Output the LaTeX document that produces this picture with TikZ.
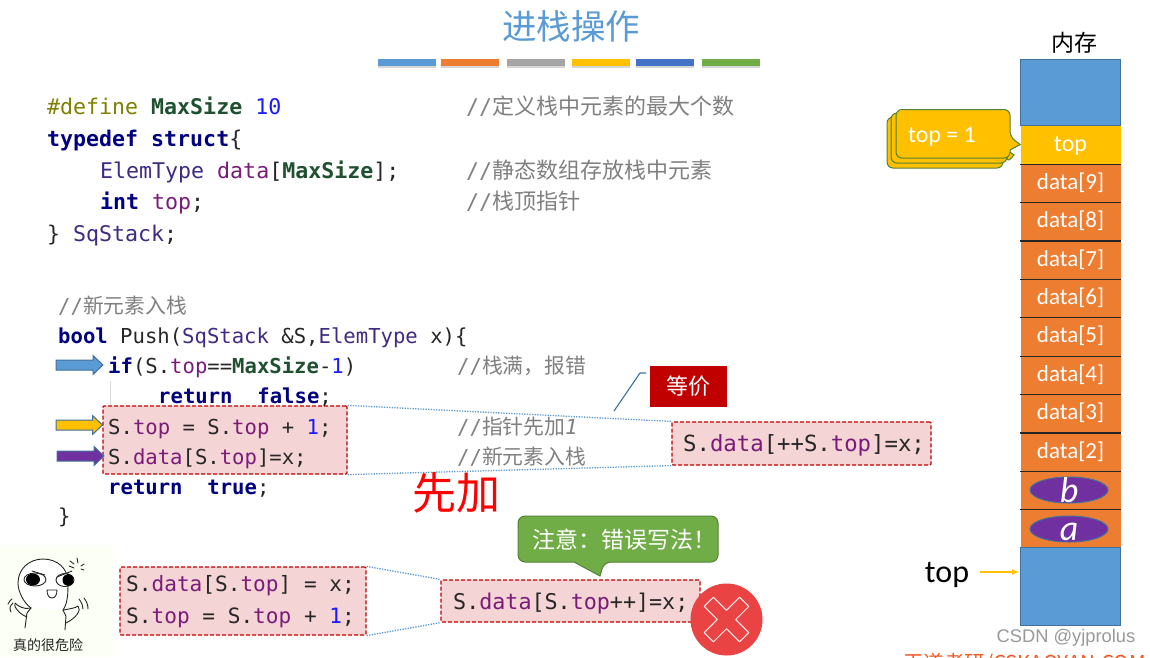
\documentclass[tikz,border=0pt]{standalone}
\usepackage{fontspec}
\setmainfont{Liberation Sans}
\newfontfamily\codefont{DejaVu Sans Mono}
\newfontfamily\cjk{Noto Sans CJK SC}
\newfontfamily\uifont{Carlito}
\usetikzlibrary{shapes.geometric,arrows.meta}
\definecolor{cblue}{HTML}{5B9BD5}
\definecolor{corange}{HTML}{ED7D31}
\definecolor{cgray}{HTML}{A5A5A5}
\definecolor{cyellow}{HTML}{FFC000}
\definecolor{cindigo}{HTML}{4472C4}
\definecolor{cgreen}{HTML}{70AD47}
\definecolor{cpurple}{HTML}{7030A0}
\definecolor{cdark}{HTML}{C00000}
\definecolor{cedge}{HTML}{41719C}
\definecolor{cbad}{HTML}{EA4343}
\definecolor{kwcol}{HTML}{000080}
\definecolor{mscol}{HTML}{1F5130}
\definecolor{memcol}{HTML}{7A1A7A}
\definecolor{tycol}{HTML}{3F2A84}
\definecolor{numcol}{HTML}{1A1AFF}
\definecolor{ppcol}{HTML}{808000}
\definecolor{cmcol}{HTML}{808080}
\definecolor{txcol}{HTML}{262626}
\newcommand{\kw}[1]{\textcolor{kwcol}{\textbf{#1}}}
\newcommand{\ms}[1]{\textcolor{mscol}{\textbf{#1}}}
\newcommand{\mem}[1]{\textcolor{memcol}{#1}}
\newcommand{\ty}[1]{\textcolor{tycol}{#1}}
\newcommand{\num}[1]{\textcolor{numcol}{#1}}
\newcommand{\cmA}[1]{\textcolor{cmcol}{//{\cjk\fontsize{22}{24}\selectfont #1}}}
\newcommand{\cmB}[1]{\textcolor{cmcol}{//{\cjk\fontsize{20.8}{24}\selectfont #1}}}
% block arrow: start x, tip x, y, fill
\newcommand{\blockarr}[4]{\draw[draw=cedge,line width=1pt,fill=#4,line join=miter]
  (#1,#3-5) -- (#2-10,#3-5) -- (#2-10,#3-9.5) -- (#2,#3) -- (#2-10,#3+9.5) -- (#2-10,#3+5) -- (#1,#3+5) -- cycle;}
\tikzset{
  x=1pt,y=-1pt,
  codeA/.style={anchor=base west,inner sep=0pt,text=txcol,font=\codefont\fontsize{21.6}{24}\selectfont},
  codeB/.style={anchor=base west,inner sep=0pt,text=txcol,font=\codefont\fontsize{20.6}{24}\selectfont},
  redbox/.style={draw=cdark,dash pattern=on 4pt off 2pt,line width=1.2pt,fill=cdark!17,rounded corners=1pt,inner sep=0pt},
  boxcode/.style={anchor=base west,inner sep=0pt,text=txcol},
  dotline/.style={draw=cblue,dash pattern=on 1.3pt off 1.3pt,line width=1.3pt},
  bar/.style={minimum width=58pt,minimum height=7pt,inner sep=0pt,line width=0pt},
  barshadow/.style={fill=black!35,minimum width=58pt,minimum height=7pt,inner sep=0pt},
  cell/.style={minimum width=100pt,inner sep=0pt,text=white,text height=14pt,text depth=2pt,font=\uifont\fontsize{23}{23}\selectfont,fill=corange},
  sep/.style={draw=black!85,line width=1.1pt},
  balloon/.style={fill=cyellow,draw=cgreen!75!black,line width=1pt,rounded corners=6pt},
  oval/.style={ellipse,minimum width=78pt,minimum height=26pt,inner sep=0pt,fill=cpurple,draw=cedge,line width=1pt,text=white,font=\uifont\itshape\fontsize{36}{36}\selectfont},
  inkline/.style={draw=black!85,line width=.9pt,line cap=round,line join=round}
}
\begin{document}
\begin{tikzpicture}
\useasboundingbox (0,0) rectangle (1150,657);
\begin{scope}
\clip (0,0) rectangle (1150,657);
\fill[white] (0,0) rectangle (1150,657);

% title
\node[text=cblue,font=\cjk\fontsize{34.5}{34.5}\selectfont,inner sep=0pt] (title) at (571,26) {进栈操作};
\foreach \xc/\cc [count=\i] in {407/cblue,470/corange,536/cgray,601/cyellow,665/cindigo,731/cgreen}{
  \node[barshadow,opacity=.45] (sh\i) at (\xc,64.5) {};
  \node[bar,fill=\cc] (bar\i) at (\xc,62.5) {};
}

% declaration code
\node[codeA] (l1) at (47,114) {\textcolor{ppcol}{\#define} \ms{MaxSize} \num{10}};
\node[codeA] (l2) at (47,146) {\kw{typedef} \kw{struct}\{};
\node[codeA] (l3) at (100,178) {\ty{ElemType} \mem{data}[\ms{MaxSize}];};
\node[codeA] (l4) at (100,209) {\kw{int} \mem{top};};
\node[codeA] (l5) at (47,241) {\} \ty{SqStack};};
\node[codeA] (c1) at (466,114) {\cmA{定义栈中元素的最大个数}};
\node[codeA] (c3) at (466,178) {\cmA{静态数组存放栈中元素}};
\node[codeA] (c4) at (466,209) {\cmA{栈顶指针}};

% indentation guide
\coordinate (g1) at (110.5,381);
\coordinate (g2) at (110.5,406);
\draw[black!15,line width=.8pt] (g1) -- (g2);

% highlighted box under the code
\node[redbox,minimum width=244pt,minimum height=68pt] (b1) at (225,440) {};
\node[redbox,minimum width=259pt,minimum height=43pt] (eq) at (801.5,443.5) {};
\draw[dotline] (b1.north east) -- (eq.north west);
\draw[dotline] (b1.south east) -- (eq.south west);

% push code
\node[codeB] (p0) at (58,313) {\cmB{新元素入栈}};
\node[codeB] (p1) at (58,343) {\kw{bool} Push(\ty{SqStack} \&S,\ty{ElemType} x)\{};
\node[codeB] (p2) at (108,373) {\kw{if}(S.\mem{top}==\ms{MaxSize}-\num{1})};
\node[codeB] (p3) at (158,403) {\kw{return}~~\kw{false};};
\node[codeB] (p4) at (108,434) {S.\mem{top} = S.\mem{top} + \num{1};};
\node[codeB] (p5) at (108,464) {S.\mem{data}[S.\mem{top}]=x;};
\node[codeB] (p6) at (108,494) {\kw{return}~~\kw{true};};
\node[codeB] (p7) at (58,523) {\}};
\node[codeB] (pc2) at (457,373) {\cmB{栈满，报错}};
\node[codeB] (pc4) at (457,434) {\cmB{指针先加{\codefont\itshape 1}}};
\node[codeB] (pc5) at (457,464) {\cmB{新元素入栈}};

% block arrows
\blockarr{56}{103}{365}{cblue}
\blockarr{56}{102.5}{425}{cyellow}
\blockarr{57}{104}{456}{cpurple}

% equivalent
\node[boxcode,font=\codefont\fontsize{22.3}{24}\selectfont] (eqt) at (683,451) {S.\mem{data}[++S.\mem{top}]=x;};
\node[fill=cdark,minimum width=77pt,minimum height=41pt,inner sep=0pt,text=white,font=\cjk\fontsize{22}{22}\selectfont] (dj) at (688.5,386.5) {等价};
\coordinate (dj1) at (614,411);
\coordinate (dj2) at (640,373);
\coordinate (dj3) at (646,373);
\draw[draw=cedge,line width=1.1pt] (dj1) -- (dj2) -- (dj3);

% first-add
\node[text=red,font=\cjk\fontsize{44}{44}\selectfont,inner sep=0pt] (xj) at (456,493) {先加};

% wrong form
\node[redbox,minimum width=246pt,minimum height=68pt] (b2) at (243,601) {};
\node[redbox,minimum width=259pt,minimum height=42pt] (wr) at (570.5,601) {};
\draw[dotline] (b2.north east) -- (wr.north west);
\draw[dotline] (b2.south east) -- (wr.south west);
\node[boxcode,font=\codefont\fontsize{21.1}{24}\selectfont] (b2a) at (126,591) {S.\mem{data}[S.\mem{top}] = x;};
\node[boxcode,font=\codefont\fontsize{21.1}{24}\selectfont] (b2b) at (126,623) {S.\mem{top} = S.\mem{top} + \num{1};};
\node[boxcode,font=\codefont\fontsize{21.7}{24}\selectfont] (wrt) at (453,609) {S.\mem{data}[S.\mem{top}++]=x;};

% green callout
\draw[fill=cgreen,draw=cgreen!75!black,line width=1pt,rounded corners=7pt]
  (518,516) -- (718,516) -- (718,562) -- (604,562) [sharp corners] -- (600,576) -- (574,562) [rounded corners=7pt] -- (518,562) -- cycle;
\node[text=white,font=\cjk\fontsize{23}{23}\selectfont,inner sep=0pt] (warn) at (624,540) {注意：错误写法！};

% red cross
\node[circle,fill=cbad,minimum size=72pt,inner sep=0pt] (nope) at (726.5,619.5) {};
\begin{scope}[shift={(nope.center)},rotate=45]
\draw[white!90!cbad,line width=1pt,line join=round]
 (-6.5,-6.5) -- (-6.5,-25) -- (6.5,-25) -- (6.5,-6.5) -- (25,-6.5) -- (25,6.5) -- (6.5,6.5) -- (6.5,25) -- (-6.5,25) -- (-6.5,6.5) -- (-25,6.5) -- (-25,-6.5) -- cycle;
\end{scope}

% emoticon
\fill[green!30!yellow!4] (0,545) rectangle (113,657);
\draw[inkline,fill=white] (31,608) .. controls (24,603) and (18,592) .. (18,583) .. controls (18,569) and (29,559) .. (43,559) .. controls (58,559) and (68,569) .. (68,582) .. controls (68,592) and (68,603) .. (63,610);
\draw[inkline] (31,608) -- (27,613) -- (25,628);
\draw[inkline] (31,608) .. controls (24,610) and (18,606) .. (15,603) .. controls (13,606) and (19,614) .. (27,617);
\draw[inkline] (63,610) -- (66,616) -- (65,630);
\draw[inkline] (63,610) .. controls (69,609) and (76,608) .. (78,606) .. controls (82,610) and (76,618) .. (66,623);
\draw[inkline] (8,604) .. controls (9,601) and (11,600) .. (12,599);
\draw[inkline] (11,612) .. controls (9,608) and (10,606) .. (13,603);
\draw[inkline] (84,598) .. controls (87,602) and (88,605) .. (88,609);
\draw[inkline] (79,599) .. controls (82,603) and (83,606) .. (83,609);
\draw[inkline,fill=white] (35,579.5) ellipse (11pt and 6.5pt);
\fill[black] (33,579.5) ellipse (7pt and 6pt);
\draw[inkline,fill=white] (65,580) ellipse (9pt and 6.5pt);
\fill[black] (68,580) ellipse (5.5pt and 6pt);
\draw[inkline] (32,571) -- (45,575);
\draw[inkline] (57,577) -- (72,571);
\draw[inkline,fill=white] (47,590) -- (57,590) .. controls (57,595) and (55,598) .. (52,598) .. controls (49,598) and (47,595) .. (47,590) -- cycle;
\draw[inkline] (70,561) -- (74,564);
\draw[inkline] (77,558) -- (78,563);
\draw[inkline] (84,564) -- (81,566);
\draw[inkline] (69,566) -- (74,568);
\draw[inkline] (84,570) -- (81,569);
\node[text=black!85,font=\cjk\fontsize{14}{14}\selectfont,inner sep=0pt] (zd) at (48,645) {真的很危险};

% stack
\node[fill=cblue,minimum width=100pt,minimum height=66pt,inner sep=0pt] (memtop) at (1070.5,92.5) {};
\node[fill=cyellow,minimum width=100pt,minimum height=39pt,inner sep=0pt,text=white,text height=15pt,text depth=2pt,font=\uifont\fontsize{24}{24}\selectfont] (topc) at (1070.5,144.5) {top};
\node[cell,minimum height=38.4pt] (d9) at (1070.5,183.2) {data[9]};
\node[cell,minimum height=38.4pt] (d8) at (1070.5,221.6) {data[8]};
\node[cell,minimum height=38.4pt] (d7) at (1070.5,260) {data[7]};
\node[cell,minimum height=38.4pt] (d6) at (1070.5,298.4) {data[6]};
\node[cell,minimum height=38.4pt] (d5) at (1070.5,336.8) {data[5]};
\node[cell,minimum height=38.4pt] (d4) at (1070.5,375.2) {data[4]};
\node[cell,minimum height=38.4pt] (d3) at (1070.5,413.6) {data[3]};
\node[cell,minimum height=38.4pt] (d2) at (1070.5,452) {data[2]};
\node[fill=corange,minimum width=100pt,minimum height=38.4pt,inner sep=0pt] (d1) at (1070.5,490.4) {};
\node[fill=corange,minimum width=100pt,minimum height=38.4pt,inner sep=0pt] (d0) at (1070.5,528.8) {};
\node[fill=cblue,minimum width=100pt,minimum height=77pt,inner sep=0pt] (membot) at (1070.5,586.5) {};
\draw[draw=cedge,line width=.8pt] (memtop.north west) rectangle (memtop.south east);
\draw[draw=cedge,line width=.8pt] (membot.north west) rectangle (membot.south east);
\draw[sep] (topc.south west) -- (topc.south east);
\foreach \n in {d9,d8,d7,d6,d5,d4,d3,d2,d1}{\draw[sep] (\n.south west) -- (\n.south east);}
\coordinate (ovb) at (1069,490);
\coordinate (ova) at (1069,529);
\node[oval] (vb) at (ovb) {};
\node[oval] (va) at (ova) {};
\node[anchor=base,inner sep=0pt,text=white,font=\uifont\itshape\fontsize{36}{36}\selectfont] (tb) at (1069,502) {b};
\node[anchor=base,inner sep=0pt,text=white,font=\uifont\itshape\fontsize{36}{36}\selectfont] (ta) at (1069,540) {a};
\node[text=black,font=\cjk\fontsize{23}{23}\selectfont,inner sep=0pt] (nc) at (1074,43) {内存};

% top = 1 callouts
\draw[balloon] (887,117) -- (1003,117) -- (1003,168) -- (887,168) -- cycle;
\draw[balloon] (891,113) -- (1007,113) -- (1007,163) [sharp corners] -- (1014,155) -- (1007,150) [rounded corners=6pt] -- (1007,163) -- (891,163) -- cycle;
\draw[balloon] (896,109.5) -- (1010,109.5) -- (1010,137) [sharp corners] -- (topc.west) -- (1010,150) [rounded corners=6pt] -- (1010,158) -- (896,158) -- cycle;
\node[anchor=base west,inner sep=0pt,text=white,font=\uifont\fontsize{23.8}{24}\selectfont] (t1) at (908,142) {top = 1};

% top pointer
\node[inner sep=0pt,text=black,font=\uifont\fontsize{32}{32}\selectfont] (tp) at (947,575) {top};
\coordinate (tpend) at (1019,572);
\draw[-{Latex[length=7pt,width=6pt]},draw=cyellow,line width=1.6pt] (980,572) -- (tpend);

% watermark, cut-off footer
\node[text=black!40,font=\fontsize{18.3}{20}\selectfont,inner sep=0pt] (wm) at (1066,638) {CSDN @yjprolus};
\node[anchor=west,text=corange!70!red,font=\cjk\fontsize{20.5}{20.5}\selectfont,inner sep=0pt] (foot) at (903,664) {王道考研/CSKAOYAN.COM};
\end{scope}
\end{tikzpicture}
\end{document}
